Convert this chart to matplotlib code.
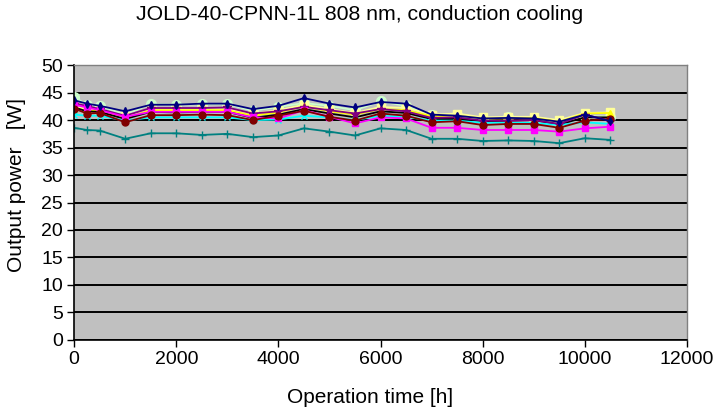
import matplotlib
matplotlib.use("Agg")
import matplotlib.pyplot as plt

plt.rcParams['font.family'] = ['Liberation Sans', 'DejaVu Sans']

hours = [0, 250, 500, 1000, 1500, 2000, 2500, 3000, 3500, 4000, 4500, 5000,
         5500, 6000, 6500, 7000, 7500, 8000, 8500, 9000, 9500, 10000, 10500]

navy = [43.6, 43.0, 42.6, 41.6, 42.8, 42.8, 43.0, 43.0, 42.0, 42.6, 44.0, 43.0,
        42.3, 43.3, 43.0, 41.0, 40.8, 40.3, 40.4, 40.3, 39.7, 41.0, 39.8]
light_green = [44.2, 42.8, 42.6, 41.0, 42.9, 42.8, 42.9, 42.9, 41.7, 42.4, 43.1, 42.6,
               41.8, 43.4, 42.6, 40.9, 40.9, 40.2, 40.5, 40.1, 39.4, 40.8, 40.6]
yellow = [42.0, 41.8, 41.6, 40.3, 41.8, 41.8, 41.8, 41.8, 40.8, 41.4, 42.5, 41.6,
          41.0, 42.0, 41.8, 40.7, 40.8, 40.3, 40.3, 40.4, 39.7, 41.2, 41.3]
light_yellow = [42.5, 42.0, 41.8, 40.8, 42.0, 42.0, 42.0, 42.0, 41.2, 41.8, 42.8, 42.0,
                41.3, 42.4, 42.2, 41.0, 41.2, 40.5, 40.6, 40.6, 40.0, 41.3, 41.4]
magenta = [42.8, 42.3, 41.8, 40.6, 41.5, 41.5, 41.5, 41.5, 40.5, 40.3, 41.8, 40.6,
           39.4, 40.5, 40.3, 38.6, 38.6, 38.2, 38.2, 38.2, 37.9, 38.5, 38.8]
purple = [43.0, 42.6, 42.0, 40.8, 42.2, 42.2, 42.2, 42.3, 41.2, 41.6, 42.4, 41.8,
          41.2, 42.0, 41.6, 40.4, 40.5, 39.9, 39.9, 40.0, 39.3, 41.0, 39.9]
maroon = [42.1, 41.2, 41.3, 39.6, 40.9, 40.9, 41.0, 40.9, 40.0, 40.8, 41.7, 40.6,
          39.9, 41.2, 40.8, 39.6, 39.8, 39.1, 39.3, 39.3, 38.6, 39.9, 40.2]
cyan = [41.0, 40.8, 40.8, 39.9, 40.5, 40.5, 40.5, 40.5, 40.0, 40.1, 40.8, 40.5,
        40.0, 40.8, 40.6, 39.9, 39.9, 39.5, 39.5, 39.5, 39.1, 39.6, 39.3]
teal = [38.6, 38.2, 38.1, 36.6, 37.6, 37.6, 37.3, 37.5, 36.9, 37.2, 38.5, 37.9,
        37.2, 38.5, 38.2, 36.6, 36.6, 36.2, 36.3, 36.2, 35.8, 36.7, 36.4]
black = [42.3, 41.6, 41.5, 40.2, 41.5, 41.4, 41.5, 41.5, 40.4, 41.0, 42.0, 41.2,
         40.5, 41.6, 41.3, 40.2, 40.3, 39.8, 39.9, 40.0, 39.2, 40.5, 40.5]

# (values, colour, marker, marker size)
series = [
    (light_green, '#CCFFCC', 'o', 7),
    (light_yellow, '#FFFF99', 's', 6),
    (yellow, '#FFFF00', '^', 5),
    (black, '#000000', '', 0),
    (cyan, '#00FFFF', 'x', 5),
    (purple, '#800080', '*', 6),
    (magenta, '#FF00FF', 's', 5),
    (maroon, '#800000', 'o', 5),
    (navy, '#000080', 'd', 4),
    (teal, '#008080', '+', 6),
]

fig = plt.figure(figsize=(7.2, 4.15), dpi=100)
ax = fig.add_axes([0.103, 0.181, 0.851, 0.662])
ax.set_facecolor('#C0C0C0')

for values, color, marker, ms in series:
    ax.plot(hours, values, color=color, marker=marker, markersize=ms,
            linewidth=1.3, markeredgecolor=color)

ax.set_xlim(0, 12000)
ax.set_ylim(0, 50)
ax.set_xticks(range(0, 12001, 2000))
ax.set_yticks(range(0, 51, 5))
ax.yaxis.grid(True, color='#000000', linewidth=1.4)
ax.set_axisbelow(True)
ax.tick_params(direction='out', length=5, width=1, labelsize=14, colors='#000000')
ax.tick_params(axis='x', pad=3)
ax.tick_params(axis='y', pad=3)

for side in ['left', 'bottom']:
    ax.spines[side].set_color('#000000')
    ax.spines[side].set_linewidth(1.2)
for side in ['top', 'right']:
    ax.spines[side].set_color('#808080')
    ax.spines[side].set_linewidth(1.0)

ax.set_xlabel('Operation time [h]', fontsize=15)
ax.xaxis.set_label_coords(0.483, -0.175)
ax.set_ylabel('Output power   [W]', fontsize=15)
ax.yaxis.set_label_coords(-0.078, 0.565)
fig.suptitle('JOLD-40-CPNN-1L 808 nm, conduction cooling', fontsize=15.3, y=0.988)

fig.savefig('out.png', dpi=100)
